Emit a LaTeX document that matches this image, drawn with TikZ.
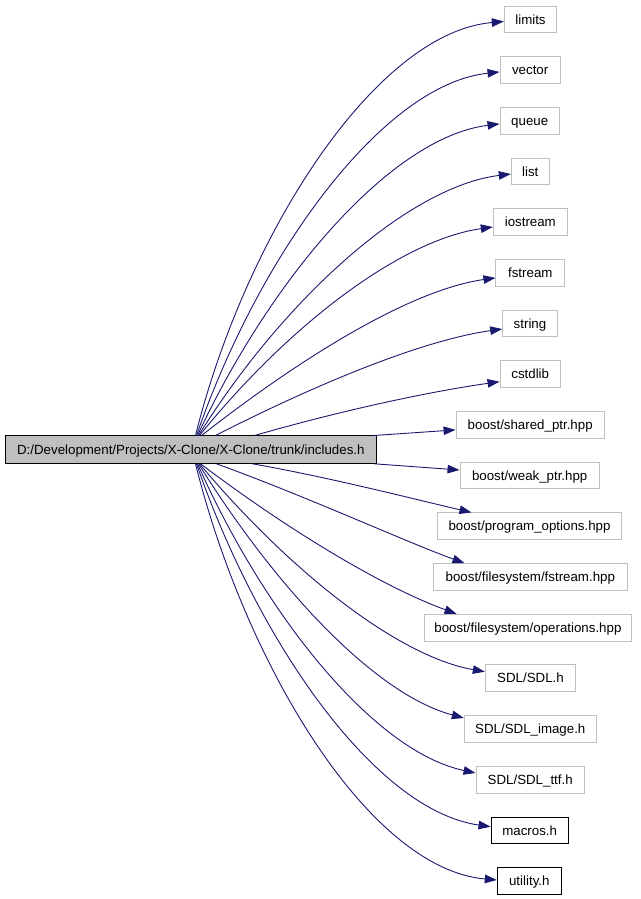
\documentclass[tikz,border=0pt]{standalone}
\usepackage{fontspec}
\setmainfont{Liberation Sans}
\usetikzlibrary{arrows.meta}
\definecolor{edgec}{HTML}{191970}
\definecolor{greyb}{HTML}{BFBFBF}
\begin{document}
\begin{tikzpicture}[x=1pt,y=1pt,
  box/.style={draw=greyb, line width=1pt, minimum height=26.7pt, inner sep=0pt,
    text height=11.5pt, text depth=2.1pt, font=\fontsize{13.3}{16}\selectfont, text=black},
  ubox/.style={box, draw=black},
  edge/.style={draw=edgec, line width=0.9pt, -{Triangle[length=12pt,width=8.5pt]}},
]
\useasboundingbox (0,0) rectangle (640,899);
\node[ubox, fill=greyb, minimum width=371.7pt, minimum height=27.3pt] (main) at (190.85,449.35) {D:/Development/Projects/X-Clone/X-Clone/trunk/includes.h};

\node[box, minimum width=52.4pt]  (limits)   at (530.5,879.5) {limits};
\node[box, minimum width=60.3pt]  (vector)   at (530.2,828.8) {vector};
\node[box, minimum width=59.3pt]  (queue)    at (529.7,778.1) {queue};
\node[box, minimum width=38pt]    (list)     at (530.3,727.5) {list};
\node[box, minimum width=74pt]    (iostream) at (530.3,676.8) {iostream};
\node[box, minimum width=68.7pt]  (fstream)  at (530.3,626.1) {fstream};
\node[box, minimum width=54.6pt]  (string)   at (530,575.4) {string};
\node[box, minimum width=60.3pt]  (cstdlib)  at (530.2,524.7) {cstdlib};
\node[box, minimum width=148.3pt] (shared)   at (530.2,474.1) {boost/shared\_ptr.hpp};
\node[box, minimum width=139.3pt] (weak)     at (529.7,423.4) {boost/weak\_ptr.hpp};
\node[box, minimum width=184.4pt] (progopt)  at (529.5,372.7) {boost/program\_options.hpp};
\node[box, minimum width=194pt]   (fsfstream) at (530.3,322) {boost/filesystem/fstream.hpp};
\node[box, minimum width=207.7pt] (fsops)    at (527.9,271.3) {boost/filesystem/operations.hpp};
\node[box, minimum width=90.4pt]  (sdl)      at (530.5,220.7) {SDL/SDL.h};
\node[box, minimum width=132pt]   (sdlimg)   at (530.3,170) {SDL/SDL\_image.h};
\node[box, minimum width=108.3pt] (sdlttf)   at (530.2,119.3) {SDL/SDL\_ttf.h};
\node[ubox, minimum width=77.3pt] (macros)   at (529.7,68.6) {macros.h};
\node[ubox, minimum width=64pt]   (utility)  at (529.3,17.9) {utility.h};

% upper edges
\draw[edge] ([xshift=191pt]main.north west) to[out=76,in=185,out distance=207pt,in distance=129pt] ([yshift=-2pt]limits.west);
\draw[edge] ([xshift=192pt]main.north west) to[out=71,in=186,out distance=190pt,in distance=118pt] ([yshift=-1.8pt]vector.west);
\draw[edge] ([xshift=193pt]main.north west) to[out=65,in=187,out distance=174pt,in distance=109pt] ([yshift=-3pt]queue.west);
\draw[edge] ([xshift=194pt]main.north west) to[out=58,in=187,out distance=163pt,in distance=102pt] ([yshift=-2.5pt]list.west);
\draw[edge] ([xshift=195pt]main.north west) to[out=51,in=188,out distance=148pt,in distance=90pt] ([yshift=-4.8pt]iostream.west);
\draw[edge] ([xshift=197pt]main.north west) to[out=38,in=188,out distance=134pt,in distance=83pt] ([yshift=-5pt]fstream.west);
\draw[edge] ([xshift=211pt]main.north west) to[out=27,in=188,out distance=122pt,in distance=77pt] ([yshift=-5.4pt]string.west);
\draw[edge] ([xshift=250pt]main.north west) to[out=16,in=188,out distance=100pt,in distance=63pt] ([yshift=-7.4pt]cstdlib.west);
\draw[edge] ([xshift=-3pt]main.north east) -- ([yshift=-5pt]shared.west);
% lower edges
\draw[edge] ([xshift=-3pt]main.south east) -- ([yshift=5.6pt]weak.west);
\draw[edge] ([xshift=248pt]main.south west) to[out=-10,in=167,out distance=80pt,in distance=55pt] ([xshift=34.7pt]progopt.north west);
\draw[edge] ([xshift=212pt]main.south west) to[out=-20,in=160,out distance=100pt,in distance=65pt] ([xshift=31.7pt]fsfstream.north west);
\draw[edge] ([xshift=196pt]main.south west) to[out=-37,in=160,out distance=119pt,in distance=74pt] ([xshift=33pt]fsops.north west);
\draw[edge] ([xshift=195pt]main.south west) to[out=-50,in=170,out distance=141pt,in distance=88pt] ([yshift=6.6pt]sdl.west);
\draw[edge] ([xshift=194pt]main.south west) to[out=-58,in=165,out distance=147pt,in distance=92pt] ([yshift=11pt]sdlimg.west);
\draw[edge] ([xshift=193pt]main.south west) to[out=-66,in=168,out distance=166pt,in distance=104pt] ([yshift=6.7pt]sdlttf.west);
\draw[edge] ([xshift=192pt]main.south west) to[out=-71,in=172,out distance=187pt,in distance=117pt] ([yshift=3.7pt]macros.west);
\draw[edge] ([xshift=191pt]main.south west) to[out=-76,in=175,out distance=206pt,in distance=129pt] ([yshift=1.1pt]utility.west);
\end{tikzpicture}
\end{document}
